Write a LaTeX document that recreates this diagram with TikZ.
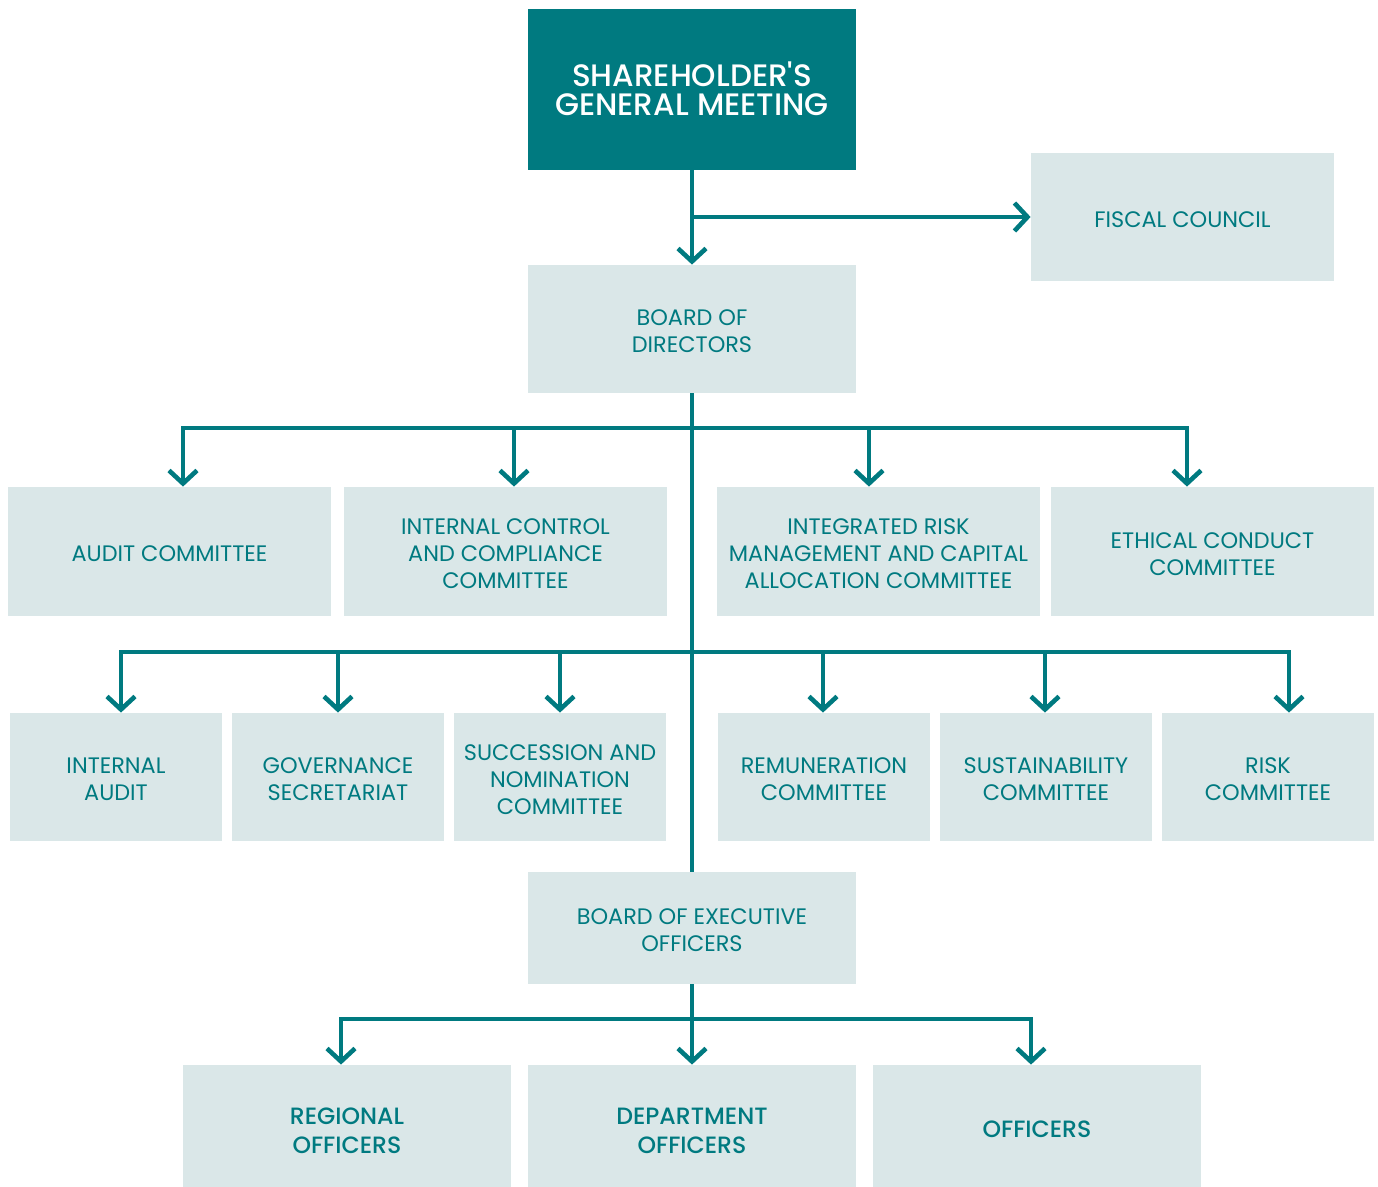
\documentclass[tikz,border=0pt]{standalone}
\usepackage{fontspec}
\setmainfont{Poppins}
\newfontfamily\popmed{Poppins Medium}
\usetikzlibrary{arrows.meta}
\definecolor{tealdark}{HTML}{007A80}
\definecolor{boxfill}{HTML}{DAE7E8}
\begin{document}
\begin{tikzpicture}[x=0.5pt,y=-0.5pt,
  box/.style={fill=boxfill, inner sep=0pt},
  txt/.style={text=tealdark, align=center, inner sep=0pt,
    font=\fontsize{11.2}{13.5}\selectfont},
  bigtxt/.style={txt, font=\popmed\fontsize{11.8}{14.5}\selectfont},
  toprow/.style={box, minimum width=161.5pt, minimum height=64.5pt},
  midrow/.style={box, minimum width=106pt, minimum height=64pt},
  botrow/.style={box, minimum width=164pt, minimum height=61pt},
  link/.style={draw=tealdark, line width=2.3pt},
  arr/.style={link, -{Straight Barb[length=6.5pt,width=14pt,line width=2.3pt]}}]
\useasboundingbox (0,0) rectangle (1378,1187);

% boxes
\node[box, fill=tealdark, minimum width=164pt, minimum height=80.5pt] (sgm) at (692,89.5) {};
\node[box, minimum width=151.5pt, minimum height=64pt] (fc) at (1182.5,217) {};
\node[box, minimum width=164pt, minimum height=64pt] (bod) at (692,329) {};

\node[toprow] (audit) at (169.5,551.5) {};
\node[toprow] (icc) at (505.5,551.5) {};
\node[toprow] (irm) at (878.5,551.5) {};
\node[toprow] (eth) at (1212.5,551.5) {};

\node[midrow] (ia) at (116,777) {};
\node[midrow] (gov) at (338,777) {};
\node[midrow] (succ) at (560,777) {};
\node[midrow] (rem) at (824,777) {};
\node[midrow] (sust) at (1046,777) {};
\node[midrow] (risk) at (1268,777) {};

\node[box, minimum width=164pt, minimum height=56pt] (beo) at (692,928) {};

\node[botrow] (reg) at (347,1126) {};
\node[botrow] (dep) at (692,1126) {};
\node[botrow] (off) at (1037,1126) {};

% texts
\node[txt, text=white, font=\popmed\fontsize{15.5}{14.5}\selectfont] (sgm-t) at ([yshift=0.3pt]sgm.center) {SHAREHOLDER'S\\GENERAL MEETING};
\node[txt] (fc-t) at ([yshift=-1.2pt]fc.center) {FISCAL COUNCIL};
\node[txt] (bod-t) at ([yshift=-1.2pt]bod.center) {BOARD OF\\DIRECTORS};

\node[txt] (audit-t) at ([yshift=-1.3pt]audit.center) {AUDIT COMMITTEE};
\node[txt] (icc-t) at ([yshift=-1.3pt]icc.center) {INTERNAL CONTROL\\AND COMPLIANCE\\COMMITTEE};
\node[txt] (irm-t) at ([yshift=-1.3pt]irm.center) {INTEGRATED RISK\\MANAGEMENT AND CAPITAL\\ALLOCATION COMMITTEE};
\node[txt] (eth-t) at ([yshift=-1.3pt]eth.center) {ETHICAL CONDUCT\\COMMITTEE};

\node[txt] (ia-t) at ([yshift=-1.2pt]ia.center) {INTERNAL\\AUDIT};
\node[txt] (gov-t) at ([yshift=-1.2pt]gov.center) {GOVERNANCE\\SECRETARIAT};
\node[txt] (succ-t) at ([yshift=-1.2pt]succ.center) {SUCCESSION AND\\NOMINATION\\COMMITTEE};
\node[txt] (rem-t) at ([yshift=-1.2pt]rem.center) {REMUNERATION\\COMMITTEE};
\node[txt] (sust-t) at ([yshift=-1.2pt]sust.center) {SUSTAINABILITY\\COMMITTEE};
\node[txt] (risk-t) at ([yshift=-1.2pt]risk.center) {RISK\\COMMITTEE};

\node[txt] (beo-t) at ([yshift=-1.3pt]beo.center) {BOARD OF EXECUTIVE\\OFFICERS};

\node[bigtxt] (reg-t) at ([yshift=-2.2pt]reg.center) {REGIONAL\\OFFICERS};
\node[bigtxt] (dep-t) at ([yshift=-2.2pt]dep.center) {DEPARTMENT\\OFFICERS};
\node[bigtxt] (off-t) at ([yshift=-1.8pt]off.center) {OFFICERS};

% connectors
\draw[arr] (sgm.south) -- (bod.north);
\draw[arr] (sgm.south |- fc.west) -- (fc.west);
\draw[link] (bod.south) -- (beo.north);

\coordinate (bar1) at (692,428);
\draw[arr] (bar1) -| ([xshift=6.75pt]audit.north);
\draw[arr] (bar1) -| ([xshift=4.25pt]icc.north);
\draw[arr] (bar1) -| ([xshift=-4.75pt]irm.north);
\draw[arr] (bar1) -| ([xshift=-12.75pt]eth.north);

\coordinate (bar2) at (692,652);
\draw[arr] (bar2) -| ([xshift=2.5pt]ia.north);
\draw[arr] (bar2) -| (gov.north);
\draw[arr] (bar2) -| (succ.north);
\draw[arr] (bar2) -| ([xshift=-0.5pt]rem.north);
\draw[arr] (bar2) -| ([xshift=-0.5pt]sust.north);
\draw[arr] (bar2) -| ([xshift=10.5pt]risk.north);

\coordinate (bar3) at (692,1019);
\draw[link] (beo.south) -- (bar3);
\draw[arr] (bar3) -| ([xshift=-3pt]reg.north);
\draw[arr] (bar3) -- (dep.north);
\draw[arr] (bar3) -| ([xshift=-3pt]off.north);
\end{tikzpicture}
\end{document}
